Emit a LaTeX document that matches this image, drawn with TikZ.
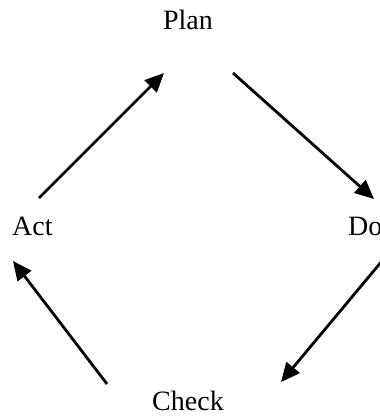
\documentclass[tikz,border=0pt]{standalone}
\usepackage{fontspec}
\setmainfont{Liberation Serif}
\usetikzlibrary{arrows.meta}
\begin{document}
\begin{tikzpicture}[x=1pt,y=-1pt,
  lbl/.style={anchor=base,inner sep=0pt,font=\fontsize{28}{32}\selectfont},
  flow/.style={line width=2.8pt,-{Triangle[length=19pt,width=17pt]}}]
\useasboundingbox (0,0) rectangle (380,416);
\clip (0,0) rectangle (380,416);
% stage labels
\node[lbl] (plan)  at (188,29)  {Plan};
\node[lbl,anchor=base west] (act) at (12,235) {Act};
\node[lbl,anchor=base west] (do)  at (348,235) {Do};
\node[lbl] (check) at (188,410) {Check};
% arrow end points around the cycle
\coordinate (actout)  at (39,198);
\coordinate (planin)  at (164,73);
\coordinate (planout) at (233,73);
\coordinate (doin)    at (374,199);
\coordinate (doout)   at (382,261);
\coordinate (checkin) at (281,382);
\coordinate (checkout) at (107,384);
\coordinate (actin)   at (13,261);
% cycle arrows
\draw[flow] (actout) -- (planin);
\draw[flow] (planout) -- (doin);
\draw[flow] (doout) -- (checkin);
\draw[flow] (checkout) -- (actin);
\end{tikzpicture}
\end{document}
